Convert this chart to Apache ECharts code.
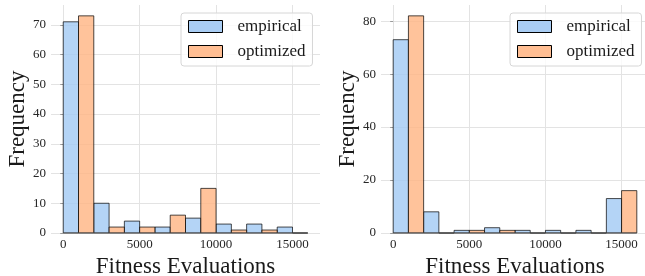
<!DOCTYPE html>
<html lang="en">
<head>
<meta charset="utf-8">
<title>Fitness Evaluations</title>
<style>
  html, body { margin: 0; padding: 0; background: #fff; }
  #main { width: 645px; height: 276px; }
</style>
</head>
<body>
<div id="main"></div>
<script src="https://cdn.jsdelivr.net/npm/echarts@6/dist/echarts.min.js"></script>
<script>
// histogram bins (left edge of each bin, bin width 2000)
var binStarts = [0, 2000, 4000, 6000, 8000, 10000, 12000, 14000];
var binWidth = 2000;

// left panel
var empiricalA = [71, 10, 4, 2, 5, 3, 3, 2];
var optimizedA = [73, 2, 2, 6, 15, 1, 1, 0];
// right panel
var empiricalB = [73, 8, 1, 2, 1, 1, 1, 13];
var optimizedB = [82, 0, 1, 1, 0, 0, 0, 16];

var xTicks = [0, 5000, 10000, 15000];
var yTicksA = [0, 10, 20, 30, 40, 50, 60, 70];
var yTicksB = [0, 20, 40, 60, 80];

var font = 'Liberation Serif';
var blueFill = 'rgba(161,201,244,0.8)';
var orangeFill = 'rgba(255,180,130,0.8)';
var edge = 'rgba(0,0,0,0.7)';

var chart = echarts.init(document.getElementById('main'));

function pairs(vals) {
  return binStarts.map(function (b, i) { return [b, vals[i]]; });
}

// each bin is split in two halves: empirical first, optimized second
function histItem(offset, fill) {
  return function (params, api) {
    var x0 = api.value(0) + offset;
    var p0 = api.coord([x0, api.value(1)]);
    var p1 = api.coord([x0 + binWidth / 2, 0]);
    return {
      type: 'rect',
      shape: { x: p0[0], y: p0[1], width: p1[0] - p0[0], height: p1[1] - p0[1] },
      style: { fill: fill, stroke: edge, lineWidth: 1 }
    };
  };
}

var lastEdge = binStarts[binStarts.length - 1] + binWidth;
var xMargin = (lastEdge - binStarts[0]) * 0.05;

function plain(v) { return String(v); }

function makeX(idx) {
  return {
    type: 'value', gridIndex: idx,
    min: binStarts[0] - xMargin, max: lastEdge + xMargin,
    name: 'Fitness Evaluations', nameLocation: 'middle', nameGap: 17,
    nameTextStyle: { fontFamily: font, fontSize: 23, color: '#1a1a1a' },
    axisLine: { show: false },
    axisTick: { show: false, customValues: xTicks },
    axisLabel: { customValues: xTicks, formatter: plain, fontFamily: font, fontSize: 13, color: '#262626', margin: 5 },
    splitLine: { show: true, lineStyle: { color: '#e3e3e3', width: 1 } }
  };
}

function makeY(idx, ticks, maxVal) {
  return {
    type: 'value', gridIndex: idx,
    min: 0, max: maxVal * 1.05,
    name: 'Frequency', nameLocation: 'middle', nameGap: 22,
    nameTextStyle: { fontFamily: font, fontSize: 23, color: '#1a1a1a' },
    axisLine: { show: false },
    axisTick: { show: true, length: 3, customValues: ticks, lineStyle: { color: '#9a9a9a' } },
    axisLabel: { customValues: ticks, formatter: plain, fontFamily: font, fontSize: 13, color: '#262626', margin: 5 },
    splitLine: { show: true, lineStyle: { color: '#e3e3e3', width: 1 } }
  };
}

function makeLegend(left) {
  return {
    orient: 'vertical', left: left, top: 13,
    padding: [4, 7, 5, 7],
    itemWidth: 34, itemHeight: 12, itemGap: 6,
    icon: 'rect',
    backgroundColor: 'rgba(255,255,255,0.8)',
    borderColor: '#d6d6d6', borderWidth: 1, borderRadius: 3,
    textStyle: { fontFamily: font, fontSize: 17, lineHeight: 19, color: '#1a1a1a', padding: [0, 0, 0, 10] },
    data: [
      { name: 'empirical', itemStyle: { color: '#a9cdf4', borderColor: '#000', borderWidth: 1 } },
      { name: 'optimized', itemStyle: { color: '#ffbe93', borderColor: '#000', borderWidth: 1 } }
    ]
  };
}

function spine(idx) {
  return {
    type: 'line', xAxisIndex: idx, yAxisIndex: idx,
    data: [[binStarts[0], 0], [lastEdge, 0]],
    symbol: 'none', silent: true, z: 3,
    lineStyle: { color: '#555', width: 1 }
  };
}

var option = {
  animation: false,
  grid: [
    { left: 51, top: 5, width: 269, height: 228, outerBoundsMode: 'none' },
    { left: 381, top: 5, width: 268, height: 228, outerBoundsMode: 'none' }
  ],
  xAxis: [makeX(0), makeX(1)],
  yAxis: [
    makeY(0, yTicksA, Math.max.apply(null, empiricalA.concat(optimizedA))),
    makeY(1, yTicksB, Math.max.apply(null, empiricalB.concat(optimizedB)))
  ],
  legend: [makeLegend(181), makeLegend(510)],
  series: [
    spine(0), spine(1),
    { name: 'empirical', type: 'custom', xAxisIndex: 0, yAxisIndex: 0, z: 2,
      itemStyle: { color: '#a9cdf4' }, renderItem: histItem(0, blueFill), data: pairs(empiricalA) },
    { name: 'optimized', type: 'custom', xAxisIndex: 0, yAxisIndex: 0, z: 2,
      itemStyle: { color: '#ffbe93' }, renderItem: histItem(binWidth / 2, orangeFill), data: pairs(optimizedA) },
    { name: 'empirical', type: 'custom', xAxisIndex: 1, yAxisIndex: 1, z: 2,
      itemStyle: { color: '#a9cdf4' }, renderItem: histItem(0, blueFill), data: pairs(empiricalB) },
    { name: 'optimized', type: 'custom', xAxisIndex: 1, yAxisIndex: 1, z: 2,
      itemStyle: { color: '#ffbe93' }, renderItem: histItem(binWidth / 2, orangeFill), data: pairs(optimizedB) }
  ]
};

chart.setOption(option);
</script>
</body>
</html>
